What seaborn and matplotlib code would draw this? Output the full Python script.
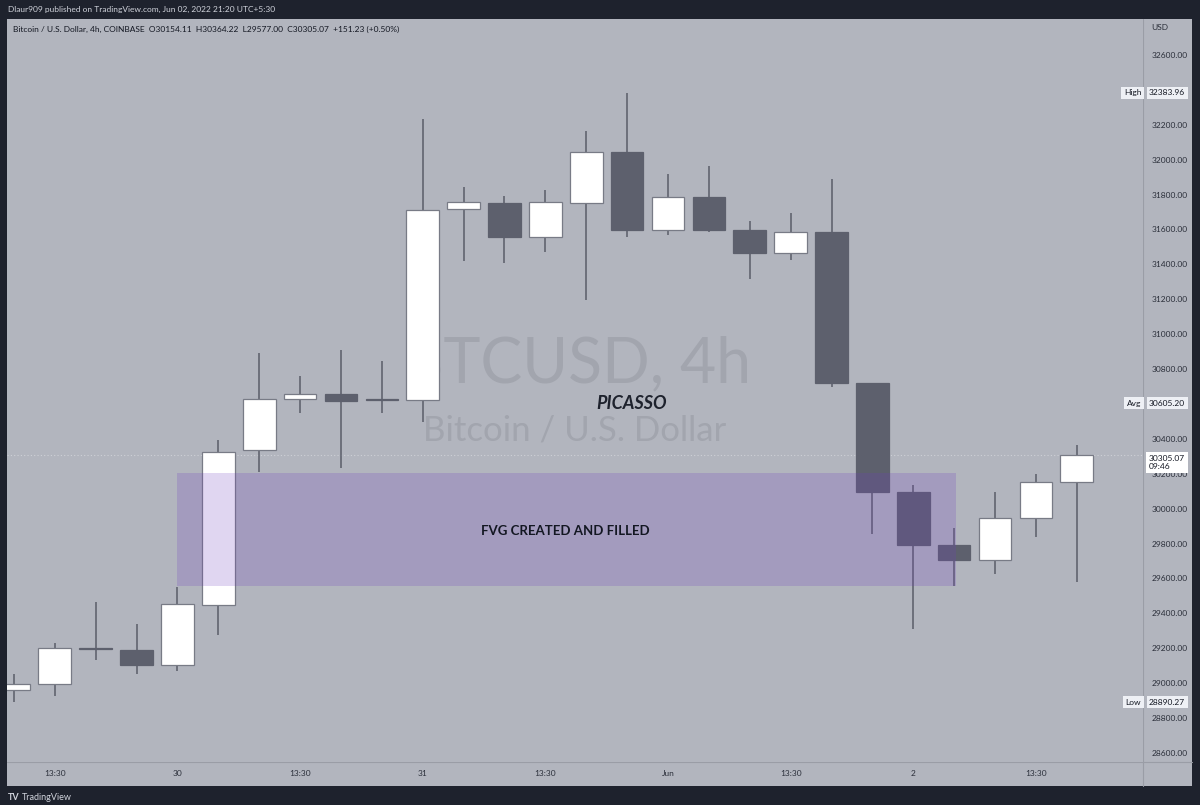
### BTCUSD 4h candles with the FVG box, redrawn in the TradingView grey theme

import pandas as pd
import seaborn as sns
import matplotlib.pyplot as plt
from matplotlib.patches import Rectangle
from matplotlib.lines import Line2D
from matplotlib.transforms import blended_transform_factory

# 1. The data (one 4h candle per entry)
opens = [28961, 28995, 29198, 29190, 29104, 29448, 30336, 30629, 30657, 30625,
         30623, 31717, 31752, 31557, 31752, 32044, 31597, 31786, 31597, 31465,
         31586, 30720, 30096, 29792, 29706, 29947, 30154.11]
highs = [29053, 29230, 29465, 29339, 29551, 30394, 30892, 30760, 30909, 30846,
         32233, 31843, 31792, 31826, 32164, 32383.96, 31918, 31964, 31649, 31695,
         31889, 30720, 30136, 29889, 30096, 30199, 30364.22]
lows = [28890.27, 28926, 29133, 29053, 29070, 29276, 30210, 30548, 30233, 30548,
        30497, 31419, 31408, 31471, 31196, 31557, 31568, 31586, 31316, 31425,
        30697, 29855, 29310, 29557, 29626, 29838, 29577]
closes = [28995, 29202, 29195, 29104, 29454, 30325, 30629, 30657, 30617, 30622,
          31712, 31758, 31557, 31758, 32044, 31597, 31786, 31597, 31465, 31586,
          30720, 30096, 29792, 29706, 29947, 30153, 30305.07]

time_tick_idx = [1, 4, 7, 10, 13, 16, 19, 22, 25]
time_tick_labels = ['13:30', '30', '13:30', '31', '13:30', 'Jun', '13:30', '2', '13:30']
price_ticks = [28600, 28800, 29000, 29200, 29400, 29600, 29800, 30000, 30200,
               30400, 30800, 31000, 31200, 31400, 31600, 31800, 32000, 32200, 32600]

# FVG zone (candle index range and price range)
fvg_start, fvg_end = 4, 23.05
fvg_low, fvg_high = 29557, 30204

high_value, avg_value, low_value = 32383.96, 30605.20, 28890.27
last_price, countdown = 30305.07, '09:46'

# 2. Colours
DARK = '#1e222d'
BG = '#b2b5be'
UP = '#ffffff'
DOWN = '#5d606d'
WICK = '#5a5d69'

df = pd.DataFrame({'open': opens, 'high': highs, 'low': lows, 'close': closes})
df['idx'] = range(len(df))
df['up'] = df['close'] > df['open']

sns.set_theme(style='white', rc={'axes.facecolor': BG, 'figure.facecolor': DARK})
plt.rcParams['font.family'] = ['Lato', 'DejaVu Sans']

W, H = 1200, 805
fig = plt.figure(figsize=(12, 8.05), dpi=100)

# grey chart panel behind everything
fig.patches.append(Rectangle((7 / W, (H - 786) / H), 1185 / W, 767 / H,
                             transform=fig.transFigure, facecolor=BG, edgecolor='none', zorder=-5))

ax = fig.add_axes([7 / W, (H - 762) / H, 1136 / W, 743 / H])
ax.set_facecolor(BG)
ax.set_zorder(1)

# 3. Watermark
ax.text(0.502, 0.511, 'BTCUSD, 4h', transform=ax.transAxes, ha='center', va='baseline',
        fontsize=45, color='#a2a5ae', zorder=1)
ax.text(0.5, 0.433, 'Bitcoin / U.S. Dollar', transform=ax.transAxes, ha='center', va='baseline',
        fontsize=25, color='#a2a5ae', zorder=1)

# 4. Candles
ax.vlines(df['idx'], df['low'], df['high'], color=WICK, linewidth=1.1, zorder=2)
body_h = (df['close'] - df['open']).abs().clip(lower=4)
body_b = df[['open', 'close']].min(axis=1)
colors = [UP if u else DOWN for u in df['up']]
edges = ['#787b86' if u else DOWN for u in df['up']]
ax.bar(df['idx'], body_h, bottom=body_b, width=0.8, color=colors, edgecolor=edges,
       linewidth=0.9, zorder=3)

# last price dotted line
ax.axhline(last_price, color='#cfd1d7', linewidth=0.8, linestyle=(0, (1, 2)), zorder=1.5)

# 5. FVG box and notes
ax.add_patch(Rectangle((fvg_start, fvg_low), fvg_end - fvg_start, fvg_high - fvg_low,
                       facecolor='#6f3ebe', alpha=0.21, edgecolor='none', zorder=4))
ax.text(13.5, 29849, 'FVG CREATED AND FILLED', ha='center', va='baseline',
        fontsize=9.5, fontweight='bold', color='#131722', zorder=5)
ax.text(15.1, 30571, 'PICASSO', ha='center', va='baseline', fontsize=13,
        fontweight='bold', fontstyle='italic', color='#1e222d', zorder=5)

ax.set_xlim(-0.17, 27.62)
ax.set_ylim(28548, 32806)

# axes ticks
ax.yaxis.tick_right()
ax.set_yticks(price_ticks)
ax.set_yticklabels([f'{p:.2f}' for p in price_ticks])
ax.set_xticks(time_tick_idx)
ax.set_xticklabels(time_tick_labels)
ax.tick_params(axis='y', length=0, pad=6.5, labelsize=6, labelcolor='#2a2e39')
ax.tick_params(axis='x', length=0, pad=6, labelsize=6, labelcolor='#2a2e39')
for s in ax.spines.values():
    s.set_visible(False)

# separators of the price and time scales
fig.add_artist(Line2D([1143 / W, 1143 / W], [(H - 786) / H, (H - 19) / H],
                      transform=fig.transFigure, color='#9a9da6', linewidth=0.8, zorder=-1))
fig.add_artist(Line2D([7 / W, 1192 / W], [(H - 762) / H, (H - 762) / H],
                      transform=fig.transFigure, color='#9a9da6', linewidth=0.8, zorder=-1))

# 6. Labels on the price scale
tr = blended_transform_factory(ax.transAxes, ax.transData)
box = dict(boxstyle='square,pad=0.3', facecolor='#eef0f5', edgecolor='none')
for name, val in [('High', high_value), ('Avg', avg_value), ('Low', low_value)]:
    ax.text(0.9985, val, name, transform=tr, ha='right', va='center', fontsize=6,
            color='#131722', bbox=box, clip_on=False, zorder=6)
    ax.text(1.0053, val, f'{val:.2f}', transform=tr, ha='left', va='center', fontsize=6,
            color='#131722', bbox=box, clip_on=False, zorder=6)
ax.text(1.0053, last_price, f'{last_price:.2f}\n{countdown}', transform=tr, ha='left', va='top',
        fontsize=6, linespacing=1.1, color='#131722', clip_on=False, zorder=6,
        bbox=dict(boxstyle='square,pad=0.35', facecolor='#ffffff', edgecolor='none'))

# 7. Header and footer text
fig.text(8 / W, 1 - 9 / H, 'Dlaur909 published on TradingView.com, Jun 02, 2022 21:20 UTC+5:30',
         ha='left', va='center', fontsize=6, color='#d1d4dc')
fig.text(13 / W, 1 - 29 / H,
         'Bitcoin / U.S. Dollar, 4h, COINBASE  O30154.11  H30364.22  L29577.00  C30305.07  +151.23 (+0.50%)',
         ha='left', va='center', fontsize=6, color='#131722', zorder=3)
fig.text(1151 / W, 1 - 28 / H, 'USD', ha='left', va='center', fontsize=6, color='#2a2e39', zorder=3)
fig.text(8 / W, 1 - 797 / H, 'TV', ha='left', va='center', fontsize=6.5,
         fontweight='bold', color='#d1d4dc')
fig.text(22 / W, 1 - 797 / H, 'TradingView', ha='left', va='center', fontsize=6.5, color='#d1d4dc')

fig.savefig('out.png', dpi=100, facecolor=fig.get_facecolor())
